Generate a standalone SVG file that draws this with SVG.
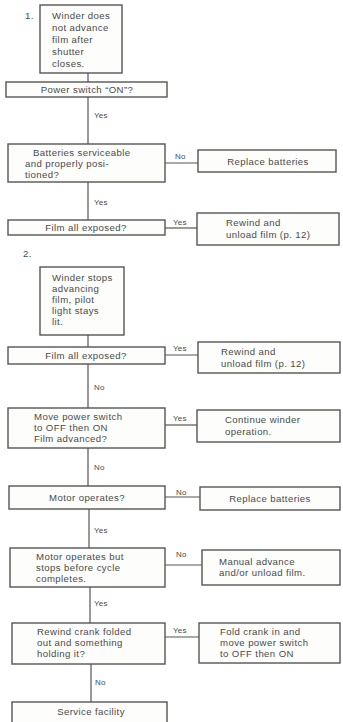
<svg xmlns="http://www.w3.org/2000/svg" width="343" height="722" viewBox="0 0 343 722">
<style>
.b{fill:#fdfdfb;stroke:#555;stroke-width:1.4}
.c{stroke:#555;stroke-width:1.2;fill:none}
text{font-family:"Liberation Sans",Arial,sans-serif;font-size:9.6px;letter-spacing:0.4px;fill:#4a4a4a}
.m{text-anchor:middle}
.l{font-size:8px;letter-spacing:0.2px}
</style>
<rect width="343" height="722" fill="#fff"/>
<g id="connectors">
<line class="c" x1="88" y1="73" x2="88" y2="82"/>
<line class="c" x1="88" y1="97" x2="88" y2="144"/>
<line class="c" x1="88" y1="182" x2="88" y2="220"/>
<line class="c" x1="165" y1="163" x2="198" y2="163"/>
<line class="c" x1="165" y1="228" x2="197" y2="228"/>
<line class="c" x1="88" y1="335" x2="88" y2="347"/>
<line class="c" x1="88" y1="364" x2="88" y2="408"/>
<line class="c" x1="165" y1="355" x2="198" y2="355"/>
<line class="c" x1="88" y1="448" x2="88" y2="486"/>
<line class="c" x1="165" y1="425" x2="197" y2="425"/>
<line class="c" x1="89" y1="509" x2="89" y2="548"/>
<line class="c" x1="165" y1="497" x2="200" y2="497"/>
<line class="c" x1="90" y1="587" x2="90" y2="623"/>
<line class="c" x1="165" y1="565" x2="202" y2="565"/>
<line class="c" x1="91" y1="664" x2="91" y2="702"/>
<line class="c" x1="165" y1="637" x2="199" y2="637"/>
<text x="94" y="118" class="l">Yes</text>
<text x="94" y="205" class="l">Yes</text>
<text x="175" y="159" class="l">No</text>
<text x="173" y="225" class="l">Yes</text>
<text x="94" y="390" class="l">No</text>
<text x="173" y="351" class="l">Yes</text>
<text x="94" y="470" class="l">No</text>
<text x="173" y="421" class="l">Yes</text>
<text x="94" y="533" class="l">Yes</text>
<text x="176" y="495" class="l">No</text>
<text x="94" y="606" class="l">Yes</text>
<text x="176" y="557" class="l">No</text>
<text x="95" y="685" class="l">No</text>
<text x="173" y="633" class="l">Yes</text>
</g>
<g id="n1">
<text x="25" y="19">1.</text>
<rect class="b" x="40" y="5" width="82" height="68"/>
<text x="52" y="19">Winder does</text>
<text x="52" y="31">not advance</text>
<text x="52" y="43">film after</text>
<text x="52" y="55">shutter</text>
<text x="52" y="67">closes.</text>
</g>
<g id="power">
<rect class="b" x="6" y="82" width="161" height="15"/>
<text x="87" y="93" class="m">Power switch “ON”?</text>
</g>
<g id="batteries">
<rect class="b" x="8" y="144" width="157" height="38"/>
<text x="33" y="156">Batteries serviceable</text>
<text x="25" y="167">and properly posi-</text>
<text x="25" y="178">tioned?</text>
</g>
<g id="film1">
<rect class="b" x="8" y="220" width="157" height="15"/>
<text x="86" y="231" class="m">Film all exposed?</text>
</g>
<g id="replace1">
<rect class="b" x="198" y="150" width="138" height="22"/>
<text x="268" y="164.5" class="m">Replace batteries</text>
</g>
<g id="rewind1">
<rect class="b" x="197" y="213" width="142" height="32"/>
<text x="226" y="226">Rewind and</text>
<text x="226" y="238">unload film (p. 12)</text>
</g>
<g id="n2">
<text x="23" y="257">2.</text>
<rect class="b" x="40" y="267" width="84" height="68"/>
<text x="52" y="281">Winder stops</text>
<text x="52" y="292">advancing</text>
<text x="52" y="303">film, pilot</text>
<text x="52" y="314">light stays</text>
<text x="52" y="325">lit.</text>
</g>
<g id="film2">
<rect class="b" x="8" y="347" width="157" height="17"/>
<text x="86" y="359" class="m">Film all exposed?</text>
</g>
<g id="rewind2">
<rect class="b" x="198" y="342" width="142" height="31"/>
<text x="221" y="355">Rewind and</text>
<text x="221" y="367">unload film (p. 12)</text>
</g>
<g id="move">
<rect class="b" x="8" y="408" width="157" height="40"/>
<text x="34" y="420">Move power switch</text>
<text x="34" y="431">to OFF then ON</text>
<text x="34" y="442">Film advanced?</text>
</g>
<g id="continue">
<rect class="b" x="197" y="410" width="143" height="32"/>
<text x="225" y="423">Continue winder</text>
<text x="225" y="435">operation.</text>
</g>
<g id="motor">
<rect class="b" x="9" y="486" width="156" height="23"/>
<text x="87" y="501" class="m">Motor operates?</text>
</g>
<g id="replace2">
<rect class="b" x="200" y="487" width="140" height="23"/>
<text x="270" y="502" class="m">Replace batteries</text>
</g>
<g id="motorstops">
<rect class="b" x="10" y="548" width="155" height="39"/>
<text x="36" y="560">Motor operates but</text>
<text x="36" y="571">stops before cycle</text>
<text x="36" y="582">completes.</text>
</g>
<g id="manual">
<rect class="b" x="202" y="550" width="138" height="35"/>
<text x="219" y="565">Manual advance</text>
<text x="219" y="576">and/or unload film.</text>
</g>
<g id="crank">
<rect class="b" x="12" y="623" width="153" height="41"/>
<text x="37" y="635">Rewind crank folded</text>
<text x="37" y="646">out and something</text>
<text x="37" y="657">holding it?</text>
</g>
<g id="fold">
<rect class="b" x="199" y="623" width="141" height="40"/>
<text x="220" y="635">Fold crank in and</text>
<text x="220" y="646">move power switch</text>
<text x="220" y="657">to OFF then ON</text>
</g>
<g id="service">
<rect class="b" x="12" y="702" width="155" height="25"/>
<text x="91" y="715" class="m">Service facility</text>
</g>
</svg>
